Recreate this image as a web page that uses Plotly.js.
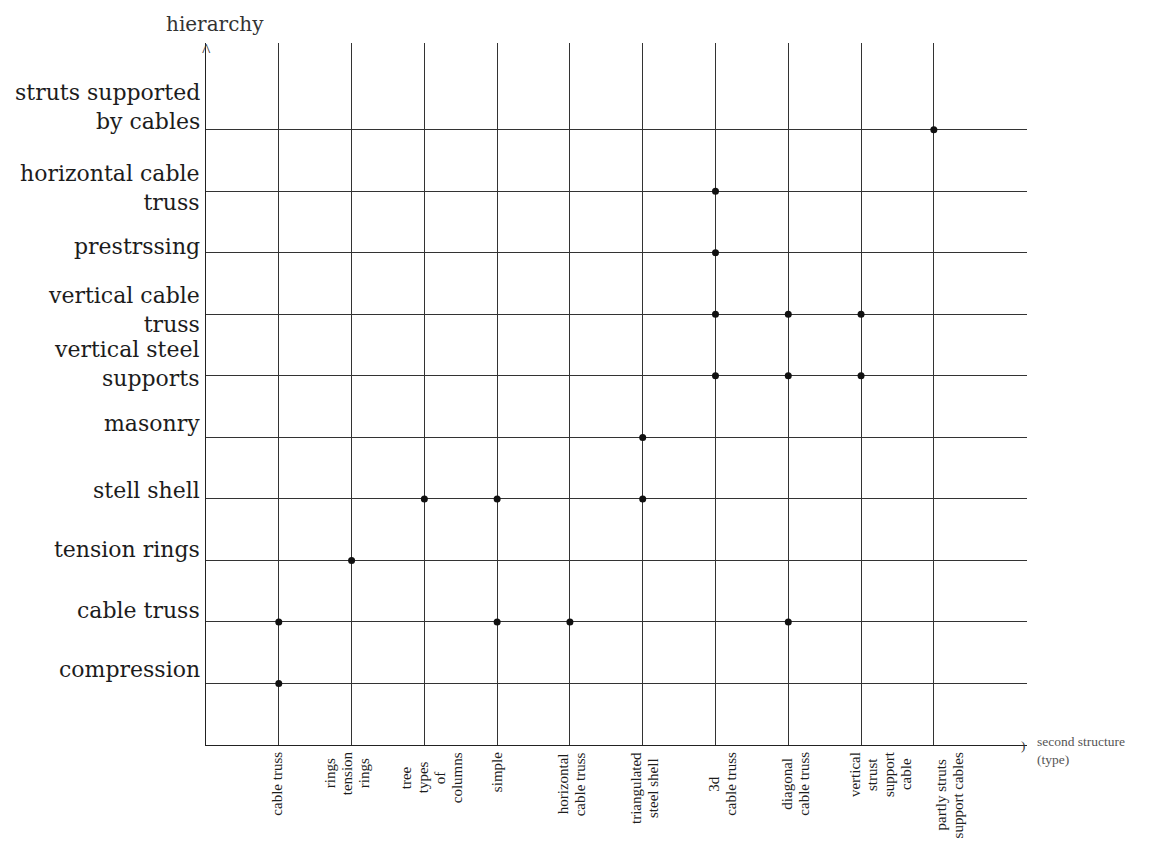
<!DOCTYPE html>
<html><head><meta charset="utf-8">
<script src="https://cdn.plot.ly/plotly-3.0.1.min.js"></script>
<style>html,body{margin:0;padding:0;background:#fff}</style>
</head><body><div id="chart" style="width:1153px;height:848px"></div>
<script>
// ---- data ----
const hierarchyLevels = [
  "compression",
  "cable truss",
  "tension rings",
  "stell shell",
  "masonry",
  "vertical steel\nsupports",
  "vertical cable\ntruss",
  "prestrssing",
  "horizontal cable\ntruss",
  "struts supported\nby cables"
];
const structureTypes = [
  "cable truss",
  "rings\ntension\nrings",
  "tree\ntypes\nof\ncolumns",
  "simple",
  "horizontal\ncable truss",
  "triangulated\nsteel shell",
  "3d\ncable truss",
  "diagonal\ncable truss",
  "vertical\nstrust\nsupport\ncable",
  "partly struts\nsupport cables"
];
const pointType = [
  "cable truss", "cable truss",
  "rings tension rings",
  "tree types of columns",
  "simple", "simple",
  "horizontal cable truss",
  "triangulated steel shell", "triangulated steel shell",
  "3d cable truss", "3d cable truss", "3d cable truss", "3d cable truss",
  "diagonal cable truss", "diagonal cable truss", "diagonal cable truss",
  "vertical strust support cable", "vertical strust support cable",
  "partly struts support cables"
];
const pointLevel = [
  "cable truss", "compression",
  "tension rings",
  "stell shell",
  "stell shell", "cable truss",
  "cable truss",
  "masonry", "stell shell",
  "horizontal cable truss", "prestrssing", "vertical cable truss", "vertical steel supports",
  "vertical cable truss", "vertical steel supports", "cable truss",
  "vertical cable truss", "vertical steel supports",
  "struts supported by cables"
];
const yTitle = "hierarchy";
const xTitleLines = ["second structure", "(type)"];

// ---- layout tuning (pixels) ----
// hierarchy labels: mid-baseline height above its grid line
const levelLabelLift = [6, 4, 3, 1, 6, 4, -3, -1, -4, 15];
// structure labels: horizontal shift of the label block from its grid line
const typeLabelShift = [-2, -5, 8, 0, 1, 2, 7, 7, 19, 16];

const flat = s => s.replace(/\n/g, " ");
const typeKeys = structureTypes.map(flat);
const levelKeys = hierarchyLevels.map(flat);
const px = pointType.map(t => typeKeys.indexOf(t) + 1);
const py = pointLevel.map(l => levelKeys.indexOf(l) + 1);
const typePos = structureTypes.map((_, i) => i + 1);
const levelPos = hierarchyLevels.map((_, i) => i + 1);

const serif = "Liberation Serif, Times New Roman, serif";
const wideSerif = "DejaVu Serif, serif";
const ink = "#1c1c1c";
const annotations = [];

// measure text lengths so that rotated lines can be centred on each other
const ctx = document.createElement("canvas").getContext("2d");
const xFont = 15;
ctx.font = xFont + "px 'Liberation Serif'";
const xLineGap = 17;

structureTypes.forEach((t, i) => {
  const lines = t.split("\n");
  const maxLen = Math.max(...lines.map(s => ctx.measureText(s).width));
  const n = lines.length;
  lines.forEach((line, k) => {
    annotations.push({
      x: typePos[i], y: 0, xref: "x", yref: "y",
      text: line, textangle: -90, showarrow: false, borderpad: 0,
      xanchor: "center", yanchor: "middle",
      xshift: typeLabelShift[i] + (k - (n - 1) / 2) * xLineGap,
      yshift: -(7 + maxLen / 2),
      font: {family: serif, size: xFont, color: ink}
    });
  });
});

// hierarchy labels
const yFont = 22;
hierarchyLevels.forEach((l, j) => {
  annotations.push({
    x: 0, y: levelPos[j], xref: "paper", yref: "y",
    text: l.split("\n").join("<br>"), showarrow: false,
    xanchor: "right", yanchor: "middle", xshift: -5, borderpad: 0,
    yshift: levelLabelLift[j] + 0.35 * yFont, align: "right",
    font: {family: wideSerif, size: yFont, color: ink}
  });
});

// axis titles
annotations.push({
  x: 0, y: 1, xref: "paper", yref: "paper", text: yTitle, showarrow: false,
  xanchor: "center", yanchor: "bottom", xshift: 9, yshift: 5,
  font: {family: wideSerif, size: 20, color: "#333"}
});
annotations.push({
  x: 1, y: 0, xref: "paper", yref: "y", text: xTitleLines.join("<br>"), showarrow: false,
  xanchor: "left", yanchor: "middle", xshift: 8, yshift: -5, align: "left",
  font: {family: serif, size: 13.5, color: "#555"}
});
// axis arrowheads
annotations.push({
  x: 0, y: 1, xref: "paper", yref: "paper", text: "^", showarrow: false,
  xanchor: "center", yanchor: "top", yshift: 4,
  font: {family: serif, size: 18, color: "#333"}
});
annotations.push({
  x: 1, y: 0, xref: "paper", yref: "y", text: ")", showarrow: false,
  xanchor: "center", yanchor: "middle", xshift: -4,
  font: {family: serif, size: 13, color: "#333"}
});

const trace = {
  x: px, y: py, type: "scatter", mode: "markers",
  marker: {size: 7, color: "#111"},
  hoverinfo: "skip", cliponaxis: false
};

const layout = {
  width: 1153, height: 848,
  margin: {l: 206, r: 126, t: 43, b: 103, pad: 0},
  paper_bgcolor: "#fff", plot_bgcolor: "#fff",
  showlegend: false,
  xaxis: {
    range: [0, 11.28], tickvals: typePos, showticklabels: false, ticks: "",
    showgrid: true, gridcolor: "#333", gridwidth: 1,
    zeroline: false, showline: true, linecolor: "#222", linewidth: 1.4, mirror: false
  },
  yaxis: {
    range: [0, 11.41], tickvals: levelPos, showticklabels: false, ticks: "",
    showgrid: true, gridcolor: "#333", gridwidth: 1,
    zeroline: false, showline: true, linecolor: "#222", linewidth: 1.4, mirror: false
  },
  annotations: annotations
};

Plotly.newPlot("chart", [trace], layout, {staticPlot: true, displayModeBar: false});
</script></body></html>
